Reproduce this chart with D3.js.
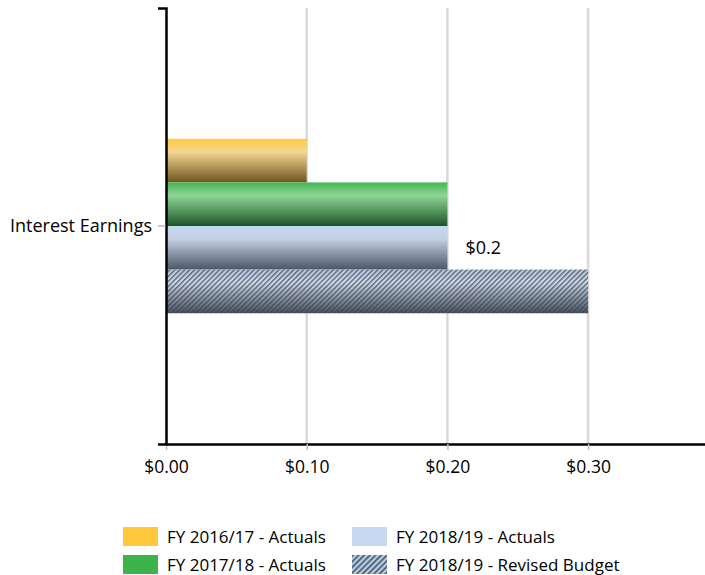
<!DOCTYPE html>
<html lang="en">
<meta charset="utf-8">
<style>
  body { margin: 0; background: #fff; }
  text { font-family: 'Open Sans', sans-serif; fill: #000; }
</style>
<script src="https://d3js.org/d3.v7.min.js"></script>
<body>
<div id="chart"></div>
<script>
  // chart data
  var categories = ["Interest Earnings"];
  var seriesNames = ["FY 2016/17 - Actuals", "FY 2017/18 - Actuals", "FY 2018/19 - Actuals", "FY 2018/19 - Revised Budget"];
  var seriesValues = [0.10, 0.20, 0.20, 0.30];
  var xTicks = [0, 0.10, 0.20, 0.30];
  var dataLabel = { series: 2, text: "$0.2" };

  var W = 705, H = 575;
  var mLeft = 166, mTop = 8, plotBottom = 444, mRight = 705;

  var svg = d3.select("#chart").append("svg")
    .attr("width", W).attr("height", H);

  var defs = svg.append("defs");

  // gradient stops per series: top, middle highlight, bottom shadow
  var grads = [
    ["#ffc83d", "#f3d690", "#6e5520"],
    ["#45b553", "#8ed697", "#1d5528"],
    ["#c6d9f1", "#c2d0e2", "#4c5664"],
    ["#b7c8de", "#d3dfee", "#46505e"]
  ];
  grads.forEach(function (g, i) {
    var lg = defs.append("linearGradient")
      .attr("id", "g" + i).attr("x1", 0).attr("y1", 0).attr("x2", 0).attr("y2", 1);
    lg.append("stop").attr("offset", "0%").attr("stop-color", g[0]);
    lg.append("stop").attr("offset", "30%").attr("stop-color", g[1]);
    lg.append("stop").attr("offset", "100%").attr("stop-color", g[2]);
  });

  var hatch = defs.append("pattern")
    .attr("id", "hatch").attr("patternUnits", "userSpaceOnUse")
    .attr("width", 3.5).attr("height", 3.5)
    .attr("patternTransform", "rotate(45)");
  hatch.append("rect").attr("width", 1.5).attr("height", 3.5)
    .attr("fill", "#3a4250").attr("opacity", 0.7);

  var legHatch = defs.append("pattern")
    .attr("id", "legHatch").attr("patternUnits", "userSpaceOnUse")
    .attr("width", 4).attr("height", 4)
    .attr("patternTransform", "rotate(45)");
  legHatch.append("rect").attr("width", 4).attr("height", 4).attr("fill", "#b8cce4");
  legHatch.append("rect").attr("width", 1.6).attr("height", 4).attr("fill", "#44546a");

  var x = d3.scaleLinear()
    .domain([0, 0.3831])
    .range([mLeft, mRight]);

  var y = d3.scaleBand()
    .domain(categories)
    .range([mTop, plotBottom]);

  var inner = d3.scaleBand()
    .domain(d3.range(seriesNames.length))
    .range([0, y.bandwidth()])
    .paddingOuter(3);

  // gridlines
  svg.append("g").selectAll("line")
    .data(xTicks.slice(1))
    .enter().append("line")
      .attr("x1", function (d) { return x(d); })
      .attr("x2", function (d) { return x(d); })
      .attr("y1", mTop).attr("y2", plotBottom)
      .attr("stroke", "#d9d9d9").attr("stroke-width", 2.5);

  // bars
  categories.forEach(function (c) {
    var g = svg.append("g").attr("transform", "translate(0," + y(c) + ")");
    g.selectAll("rect.bar")
      .data(seriesValues)
      .enter().append("rect")
        .attr("class", "bar")
        .attr("x", x(0))
        .attr("y", function (d, i) { return inner(i); })
        .attr("width", function (d) { return x(d) - x(0); })
        .attr("height", inner.bandwidth())
        .attr("fill", function (d, i) { return "url(#g" + i + ")"; });
    g.append("rect")
      .attr("x", x(0))
      .attr("y", inner(3))
      .attr("width", x(seriesValues[3]) - x(0))
      .attr("height", inner.bandwidth())
      .attr("fill", "url(#hatch)");
    g.append("text")
      .attr("x", x(seriesValues[dataLabel.series]) + 18)
      .attr("y", inner(dataLabel.series) + inner.bandwidth() / 2 + 6)
      .attr("font-size", "18px")
      .text(dataLabel.text);
  });

  // x axis
  var xAxis = svg.append("g")
    .attr("transform", "translate(0," + plotBottom + ")")
    .call(d3.axisBottom(x).tickValues(xTicks).tickSize(6).tickSizeOuter(0)
      .tickFormat(function (d) { return "$" + d.toFixed(2); }));
  xAxis.select(".domain").attr("stroke", "#000").attr("stroke-width", 2.5);
  xAxis.selectAll(".tick line").attr("stroke", "#bfbfbf").attr("stroke-width", 1.5);
  xAxis.selectAll(".tick text").attr("font-size", "17.5px").attr("dy", "1.15em")
    .style("font-family", "'Open Sans', sans-serif");

  // y axis
  var yAxis = svg.append("g")
    .attr("transform", "translate(" + mLeft + ",0)")
    .call(d3.axisLeft(y).tickSize(8).tickSizeOuter(8).tickPadding(6));
  yAxis.select(".domain").attr("stroke", "#000").attr("stroke-width", 2.5);
  yAxis.selectAll(".tick line").attr("stroke", "#999");
  yAxis.selectAll(".tick text").attr("font-size", "18px")
    .style("font-family", "'Open Sans', sans-serif");

  // legend
  var legendPos = [[123, 527], [123, 555], [352, 527], [352, 555]];
  var legend = svg.append("g");
  var item = legend.selectAll("g")
    .data(seriesNames)
    .enter().append("g")
      .attr("transform", function (d, i) { return "translate(" + legendPos[i][0] + "," + legendPos[i][1] + ")"; });
  var swatch = ["#ffc83d", "#3cb44b", "#c6d9f1", "url(#legHatch)"];
  item.append("rect")
    .attr("width", 35).attr("height", 19)
    .attr("fill", function (d, i) { return swatch[i]; });
  item.append("text")
    .attr("x", 44).attr("y", 16)
    .attr("font-size", "17px")
    .text(function (d) { return d; });
</script>
</body>
</html>
